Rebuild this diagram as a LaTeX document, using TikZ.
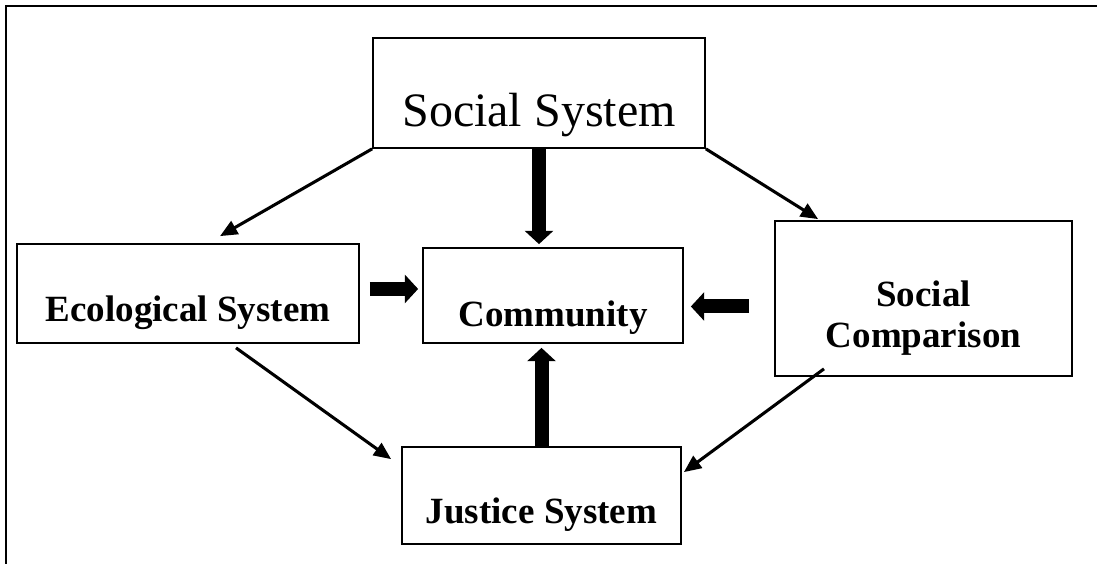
\documentclass[tikz,border=0pt]{standalone}
\usepackage{fontspec}
\setmainfont{Liberation Serif}
\usetikzlibrary{arrows.meta}

\tikzset{
  box/.style={draw, line width=1.3pt, inner sep=0pt, text depth=0pt, align=center,
    font=\fontsize{27.75}{30.75}\selectfont\bfseries},
  link/.style={line width=2.3pt, -{Triangle[length=13pt,width=11pt]}},
  push/.style={line width=10.5pt, -{Triangle[length=10pt,width=21pt]}}
}

\begin{document}
\begin{tikzpicture}[x=0.75pt,y=0.75pt]
\useasboundingbox (0,0) rectangle (1097,564);
%frame
\draw[line width=1.7pt] (6,0) |- (1097,558);
%boxes
\node[box, minimum width=249pt, minimum height=82.5pt, text height=51pt,
  font=\fontsize{36}{43}\selectfont] (social) at (539,471) {Social System};
\node[box, minimum width=256.5pt, minimum height=74.25pt, text height=42.75pt] (eco) at (188,270.5) {Ecological System};
\node[box, minimum width=195pt, minimum height=71.25pt, text height=47.25pt] (comm) at (553,268.5) {Community};
\node[box, minimum width=222.75pt, minimum height=116.25pt, text height=74.25pt] (comp) at (923.5,265.5) {Social\\Comparison};
\node[box, minimum width=209.25pt, minimum height=72.75pt, text height=42.75pt] (just) at (541.5,68.5) {Justice System};
%thin arrows
\draw[link] (social.south west) -- ([shift={(32,7)}]eco.north);
\draw[link] (social.south east) -- ([shift={(44,1)}]comp.north west);
\draw[link] ([shift={(48,-4)}]eco.south) -- ([shift={(-10,-13)}]just.north west);
\draw[link] ([shift={(-99.5,8)}]comp.south) -- ([shift={(2,-26)}]just.north east);
%thick arrows into the community box
\coordinate (ee) at ([yshift=3.4pt]eco.east);
\coordinate (ce) at ([yshift=-6pt]comp.west);
\draw[push, shorten >=2.25pt] (social.south) -- (social.south |- comm.north);
\draw[push, shorten >=3pt] (just.north) -- (just.north |- comm.south);
\draw[push, shorten <=7.5pt, shorten >=3pt] (ee) -- (ee -| comm.west);
\draw[push, shorten <=18.75pt, shorten >=5.25pt] (ce) -- (ce -| comm.east);
\end{tikzpicture}
\end{document}
